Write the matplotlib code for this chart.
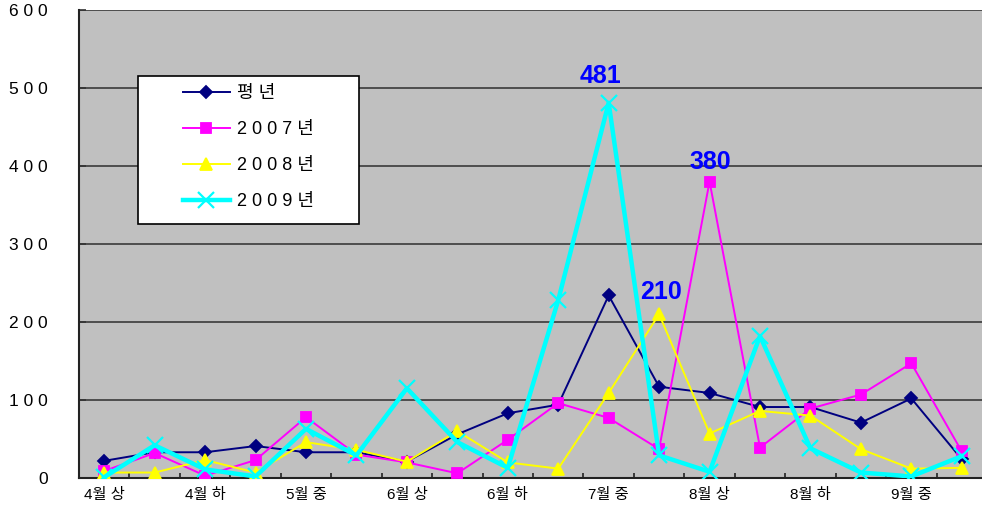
"""Seasonal counts by ten-day period, 평년 vs 2007-2009."""

import matplotlib
matplotlib.use("Agg")
import matplotlib.pyplot as plt
from matplotlib.patches import Rectangle

plt.rcParams["font.family"] = ["Liberation Sans", "Noto Sans CJK KR", "DejaVu Sans"]

PERIODS = [
    "4월 상", "4월 중", "4월 하", "5월 상", "5월 중", "5월 하",
    "6월 상", "6월 중", "6월 하", "7월 상", "7월 중", "7월 하",
    "8월 상", "8월 중", "8월 하", "9월 상", "9월 중", "9월 하",
]

normal_year = [22, 33, 33, 41, 33, 33, 21, 56, 83, 94, 234, 117, 109, 91, 91, 71, 102, 24]
y2007 = [9, 32, 3, 23, 78, 30, 20, 6, 49, 96, 77, 37, 380, 39, 89, 107, 147, 34]
y2008 = [7, 7, 23, 7, 46, 36, 21, 60, 20, 12, 109, 210, 57, 86, 80, 37, 12, 13]
y2009 = [1, 42, 11, 2, 63, 29, 115, 46, 13, 228, 481, 29, 8, 182, 38, 7, 2, 28]

SERIES = [
    ("평 년", normal_year, "#000080", "D", 6, 1.4, 1.3),
    ("2 0 0 7 년", y2007, "#FF00FF", "s", 7, 1.4, 1.3),
    ("2 0 0 8 년", y2008, "#FFFF00", "^", 8, 1.4, 1.3),
    ("2 0 0 9 년", y2009, "#00FFFF", "x", 12, 3.2, 1.6),
]

# value labels: (series values, index, pixel offset)
PEAK_LABELS = [(y2009, 10, (-8, 27)), (y2007, 12, (1, 20)), (y2008, 11, (2, 22))]

W, H = 982, 509
PX = 0.72  # points per pixel at dpi 100

fig = plt.figure(figsize=(W / 100, H / 100), dpi=100)
fig.patch.set_facecolor("white")
ax = fig.add_axes([79 / W, 31 / H, (987 - 79) / W, 468 / H])
ax.set_facecolor("#C0C0C0")

x = list(range(len(PERIODS)))
handles = []
for label, values, color, marker, size, lw, mew in SERIES:
    (line,) = ax.plot(
        x, values, color=color, marker=marker, markersize=size,
        linewidth=lw, markeredgewidth=mew, markeredgecolor=color,
        label=label, zorder=3,
    )
    handles.append(line)

for values, idx, offset in PEAK_LABELS:
    ax.annotate(
        str(values[idx]), (idx, values[idx]), xytext=offset,
        textcoords="offset pixels", ha="center", va="center",
        color="#0000FF", fontsize=18, fontweight="bold",
        family="Liberation Sans", zorder=6,
    )

ax.set_xlim(-0.5, len(PERIODS) - 0.5)
ax.set_ylim(0, 600)

yt = list(range(0, 601, 100))
ax.set_yticks(yt, [" ".join(str(v)) for v in yt], fontsize=12.5)
ax.tick_params(axis="y", direction="in", length=7 * PX, width=1.2, pad=31 * PX,
               colors="#333333", labelcolor="black")

ax.set_xticks([i + 0.5 for i in x[:-1]])
ax.set_xticklabels([])
ax.tick_params(axis="x", which="major", direction="in", length=5 * PX, width=1.2,
               colors="#222222")
ax.set_xticks(x[::2], minor=True)
ax.set_xticklabels(PERIODS[::2], minor=True, fontsize=11)
ax.tick_params(axis="x", which="minor", length=0, pad=10 * PX)

ax.grid(axis="y", color="#3a3a3a", linewidth=1.2, zorder=1)
ax.set_axisbelow(True)
for side in ("top", "right"):
    ax.spines[side].set_visible(False)
ax.spines["left"].set_linewidth(1.5)
ax.spines["left"].set_color("#222222")
ax.spines["bottom"].set_linewidth(1.5)
ax.spines["bottom"].set_color("#222222")

# legend: white box drawn separately, legend itself without frame
box = Rectangle((138 / W, 1 - 224 / H), (359 - 138) / W, (224 - 76) / H,
                transform=fig.transFigure, facecolor="white", edgecolor="black",
                linewidth=1.2, zorder=5)
ax.add_patch(box)
leg = ax.legend(
    handles=handles, loc="upper left", bbox_to_anchor=(183 / W, 1 - 85 / H),
    bbox_transform=fig.transFigure, frameon=False, fontsize=13, numpoints=1,
    handlelength=2.6, handletextpad=0.4, labelspacing=1.05, borderpad=0,
    borderaxespad=0,
)
leg.set_zorder(6)

fig.savefig("out.png", dpi=100)
